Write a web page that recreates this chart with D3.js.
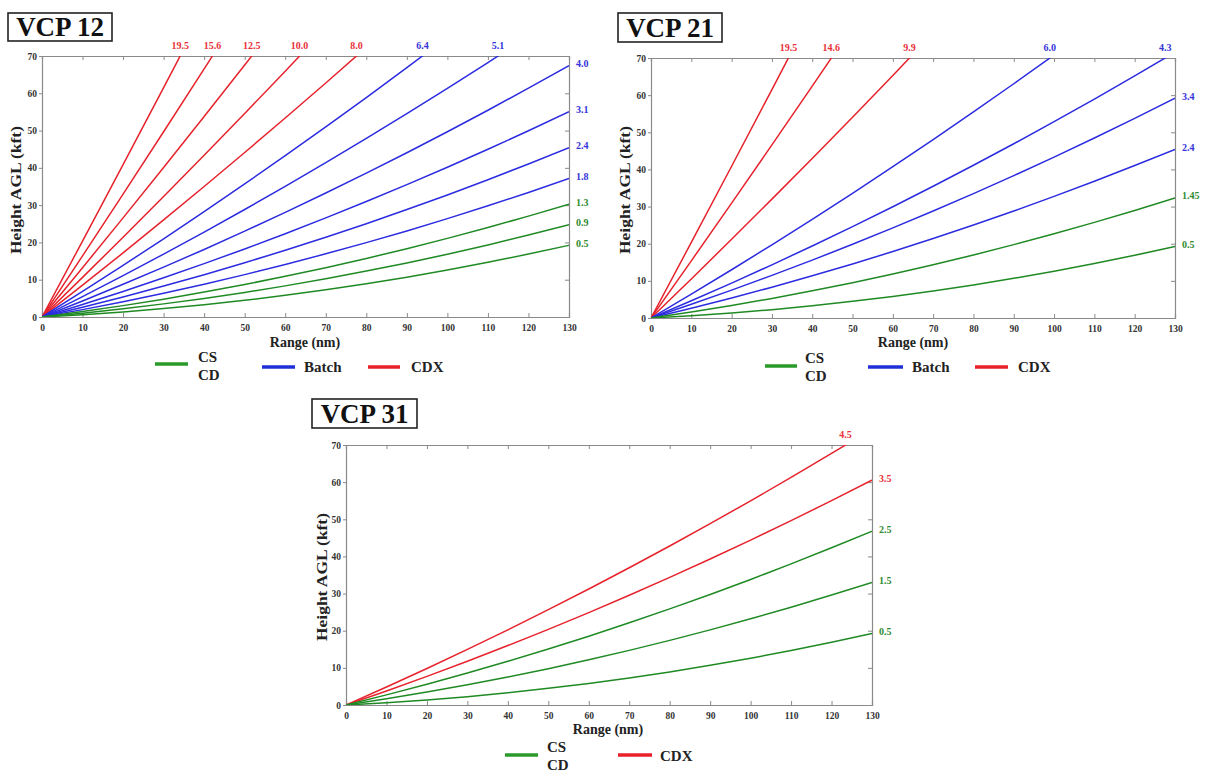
<!DOCTYPE html>
<html>
<head>
<meta charset="utf-8">
<script src="https://cdn.jsdelivr.net/npm/d3@7"></script>
<style>
  html, body { margin: 0; padding: 0; background: #fff; }
  svg { display: block; }
  text { font-family: "Liberation Serif", "Times New Roman", serif; font-weight: bold; }
</style>
</head>
<body>
<svg id="chart" width="1206" height="772"></svg>
<script>
// ---------------- DATA ----------------
const ranges = [0, 10, 20, 30, 40, 50, 60, 70, 80, 90, 100, 110, 120, 130];
const xTicks = [0, 10, 20, 30, 40, 50, 60, 70, 80, 90, 100, 110, 120, 130];
const yTicks = [0, 10, 20, 30, 40, 50, 60, 70];

// VCP 12: elevation angles (deg), scan type, beam height (kft) at each range
const vcp12Angles = ["19.5", "15.6", "12.5", "10.0", "8.0", "6.4", "5.1", "4.0", "3.1", "2.4", "1.8", "1.3", "0.9", "0.5"];
const vcp12Types  = ["CDX", "CDX", "CDX", "CDX", "CDX", "Batch", "Batch", "Batch", "Batch", "Batch", "Batch", "CS", "CS", "CS"];
const vcp12Heights = [
  [0, 20.36, 40.86, 61.50, 82.30],
  [0, 16.41, 32.97, 49.68, 66.53, 83.52],
  [0, 13.22, 26.59, 40.11, 53.77, 67.58, 81.53],
  [0, 10.62, 21.39, 32.31, 43.37, 54.58, 65.93, 77.43],
  [0, 8.53, 17.20, 26.03, 34.99, 44.11, 53.37, 62.77, 72.32],
  [0, 6.85, 13.84, 20.98, 28.26, 35.69, 43.27, 50.99, 58.86, 66.87, 75.03],
  [0, 5.47, 11.09, 16.86, 22.77, 28.83, 35.04, 41.39, 47.88, 54.52, 61.31, 68.25, 75.33],
  [0, 4.31, 8.77, 13.37, 18.12, 23.02, 28.06, 33.25, 38.58, 44.06, 49.68, 55.46, 61.37, 67.44],
  [0, 3.36, 6.86, 10.51, 14.31, 18.25, 22.34, 26.58, 30.96, 35.49, 40.16, 44.98, 49.94, 55.05],
  [0, 2.62, 5.38, 8.29, 11.35, 14.55, 17.89, 21.39, 25.03, 28.81, 32.74, 36.82, 41.05, 45.41],
  [0, 1.98, 4.11, 6.38, 8.80, 11.37, 14.08, 16.94, 19.94, 23.09, 26.39, 29.83, 33.41, 37.15],
  [0, 1.45, 3.05, 4.79, 6.68, 8.72, 10.90, 13.23, 15.70, 18.32, 21.09, 24.00, 27.05, 30.26],
  [0, 1.03, 2.20, 3.52, 4.99, 6.60, 8.35, 10.26, 12.31, 14.50, 16.84, 19.33, 21.97, 24.74],
  [0, 0.60, 1.35, 2.25, 3.29, 4.48, 5.81, 7.29, 8.91, 10.69, 12.60, 14.67, 16.87, 19.23]
];

// VCP 21
const vcp21Angles = ["19.5", "14.6", "9.9", "6.0", "4.3", "3.4", "2.4", "1.45", "0.5"];
const vcp21Types  = ["CDX", "CDX", "CDX", "Batch", "Batch", "Batch", "Batch", "CS", "CS"];
const vcp21Heights = [
  [0, 20.36, 40.86, 61.50, 82.30],
  [0, 15.39, 30.92, 46.60, 62.43, 78.40],
  [0, 10.52, 21.18, 32.00, 42.95, 54.06, 65.31, 76.70],
  [0, 6.42, 12.99, 19.71, 26.57, 33.58, 40.73, 48.03, 55.48, 63.07, 70.81],
  [0, 4.63, 9.40, 14.32, 19.39, 24.60, 29.96, 35.47, 41.12, 46.91, 52.86, 58.95, 65.18, 71.56],
  [0, 3.68, 7.50, 11.47, 15.58, 19.84, 24.25, 28.80, 33.50, 38.34, 43.33, 48.47, 53.75, 59.18],
  [0, 2.62, 5.38, 8.29, 11.35, 14.55, 17.89, 21.39, 25.03, 28.81, 32.74, 36.82, 41.05, 45.41],
  [0, 1.61, 3.37, 5.27, 7.32, 9.51, 11.85, 14.34, 16.97, 19.75, 22.68, 25.75, 28.96, 32.32],
  [0, 0.60, 1.35, 2.25, 3.29, 4.48, 5.81, 7.29, 8.91, 10.69, 12.60, 14.67, 16.87, 19.23]
];

// VCP 31
const vcp31Angles = ["4.5", "3.5", "2.5", "1.5", "0.5"];
const vcp31Types  = ["CDX", "CDX", "CS", "CS", "CS"];
const vcp31Heights = [
  [0, 4.84, 9.83, 14.96, 20.24, 25.66, 31.23, 36.95, 42.81, 48.82, 54.97, 61.27, 67.72, 74.31],
  [0, 3.78, 7.71, 11.79, 16.01, 20.37, 24.88, 29.54, 34.35, 39.30, 44.39, 49.64, 55.02, 60.56],
  [0, 2.72, 5.59, 8.61, 11.77, 15.08, 18.53, 22.13, 25.87, 29.77, 33.80, 37.99, 42.32, 46.79],
  [0, 1.66, 3.47, 5.43, 7.53, 9.78, 12.17, 14.71, 17.40, 20.23, 23.21, 26.33, 29.60, 33.01],
  [0, 0.60, 1.35, 2.25, 3.29, 4.48, 5.81, 7.29, 8.91, 10.69, 12.60, 14.67, 16.87, 19.23]
];

const typeLegend12 = ["CS", "Batch", "CDX"];
const typeLegend31 = ["CS", "CDX"];

// ---------------- STYLE / LAYOUT ----------------
const lineColor  = { CS: "#1f8a24", Batch: "#2b2be0", CDX: "#e6222c" };
const labelColor = { CS: "#2e8a30", Batch: "#3434d8", CDX: "#e83038" };
const legendColor = { CS: "#2a9a2a", Batch: "#2030d8", CDX: "#e82028" };
const legendText = { CS: ["CS", "CD"], Batch: ["Batch"], CDX: ["CDX"] };

const panels = [
  { title: "VCP 12", angles: vcp12Angles, types: vcp12Types, heights: vcp12Heights,
    left: 42, right: 569, top: 56, bottom: 317,
    box: { x: 8, y: 13, w: 104, h: 28 },
    yLab: { x: 16, y: 190 }, xLab: { x: 305, y: 342 },
    legend: [ { t: "CS", x1: 155, x2: 188, y: 364, tx: 198, ty: 357 },
              { t: "Batch", x1: 262, x2: 295, y: 367, tx: 304, ty: 367 },
              { t: "CDX", x1: 368, x2: 400, y: 367, tx: 411, ty: 367 } ] },
  { title: "VCP 21", angles: vcp21Angles, types: vcp21Types, heights: vcp21Heights,
    left: 651, right: 1175, top: 58, bottom: 318,
    box: { x: 618, y: 13, w: 104, h: 29 },
    yLab: { x: 625, y: 190 }, xLab: { x: 913, y: 342 },
    legend: [ { t: "CS", x1: 765, x2: 797, y: 366, tx: 805, ty: 358 },
              { t: "Batch", x1: 868, x2: 903, y: 367, tx: 912, ty: 367 },
              { t: "CDX", x1: 975, x2: 1008, y: 367, tx: 1018, ty: 367 } ] },
  { title: "VCP 31", angles: vcp31Angles, types: vcp31Types, heights: vcp31Heights,
    left: 346, right: 872, top: 445, bottom: 705,
    box: { x: 312, y: 399, w: 105, h: 29 },
    yLab: { x: 322, y: 577 }, xLab: { x: 608, y: 729 },
    legend: [ { t: "CS", x1: 505, x2: 538, y: 755, tx: 547, ty: 747 },
              { t: "CDX", x1: 618, x2: 652, y: 755, tx: 660, ty: 756 } ] }
];

const svg = d3.select("#chart");

panels.forEach((p, pi) => {
  const x = d3.scaleLinear().domain([0, 130]).range([p.left, p.right]);
  const y = d3.scaleLinear().domain([0, 70]).range([p.bottom, p.top]);
  const g = svg.append("g");

  // clip
  const clipId = "clip" + pi;
  svg.append("clipPath").attr("id", clipId).append("rect")
    .attr("x", p.left).attr("y", p.top)
    .attr("width", p.right - p.left).attr("height", p.bottom - p.top);

  // axes
  const tickColor = "#8a8a8a";
  const axB = g.append("g").attr("transform", `translate(0,${p.bottom})`)
    .call(d3.axisBottom(x).tickValues(xTicks).tickSize(-4).tickPadding(7).tickFormat(d3.format("d")));
  const axL = g.append("g").attr("transform", `translate(${p.left},0)`)
    .call(d3.axisLeft(y).tickValues(yTicks).tickSize(3).tickPadding(2).tickFormat(d3.format("d")));
  const axT = g.append("g").attr("transform", `translate(0,${p.top})`)
    .call(d3.axisTop(x).tickValues(xTicks).tickSize(-4).tickFormat(""));
  const axR = g.append("g").attr("transform", `translate(${p.right},0)`)
    .call(d3.axisRight(y).tickValues(yTicks).tickSize(-4).tickFormat(""));
  [axB, axL, axT, axR].forEach(a => {
    a.select(".domain").attr("stroke", tickColor).attr("stroke-width", 1.2);
    a.selectAll(".tick line").attr("stroke", tickColor);
    a.selectAll(".tick text").attr("fill", "#333").style("font-size", "9.5px")
      .style("font-family", '"Liberation Serif", "Times New Roman", serif').style("font-weight", "bold");
  });

  // lines
  const line = d3.line()
    .x((d, i) => x(ranges[i]))
    .y(d => y(d))
    .curve(d3.curveMonotoneX);
  const lg = g.append("g").attr("clip-path", `url(#${clipId})`);
  p.heights.forEach((h, k) => {
    lg.append("path").datum(h)
      .attr("d", line)
      .attr("fill", "none")
      .attr("stroke", lineColor[p.types[k]])
      .attr("stroke-width", 1.5);
  });

  // curve labels
  p.heights.forEach((h, k) => {
    const col = labelColor[p.types[k]];
    const last = h[h.length - 1];
    let tx, ty, anchor;
    if (last > 70) {
      // find crossing of the top
      let r = 130;
      for (let i = 1; i < h.length; i++) {
        if (h[i] >= 70) {
          const f = (70 - h[i - 1]) / (h[i] - h[i - 1]);
          r = ranges[i - 1] + f * (ranges[i] - ranges[i - 1]);
          break;
        }
      }
      tx = x(r); ty = p.top - 11; anchor = "middle";
    } else {
      tx = p.right + 7; ty = y(last) - 2; anchor = "start";
    }
    g.append("text").attr("x", tx).attr("y", ty).attr("dy", "0.35em")
      .attr("text-anchor", anchor).attr("fill", col)
      .style("font-size", "10px").text(p.angles[k]);
  });

  // title box
  g.append("rect").attr("x", p.box.x).attr("y", p.box.y)
    .attr("width", p.box.w).attr("height", p.box.h)
    .attr("fill", "#fff").attr("stroke", "#222").attr("stroke-width", 1.6);
  g.append("text").attr("x", p.box.x + p.box.w / 2).attr("y", p.box.y + p.box.h - 5)
    .attr("text-anchor", "middle").attr("fill", "#111")
    .style("font-size", "27px").text(p.title);

  // axis titles
  g.append("text")
    .attr("transform", `translate(${p.yLab.x},${p.yLab.y}) rotate(-90)`)
    .attr("text-anchor", "middle").attr("dy", "0.35em").attr("fill", "#222")
    .attr("textLength", 128).attr("lengthAdjust", "spacingAndGlyphs")
    .style("font-size", "14px").text("Height AGL (kft)");
  g.append("text").attr("x", p.xLab.x).attr("y", p.xLab.y).attr("dy", "0.35em")
    .attr("text-anchor", "middle").attr("fill", "#222")
    .style("font-size", "14px").text("Range (nm)");

  // legend
  p.legend.forEach(L => {
    g.append("line").attr("x1", L.x1).attr("x2", L.x2).attr("y1", L.y).attr("y2", L.y)
      .attr("stroke", legendColor[L.t]).attr("stroke-width", 3.5);
    legendText[L.t].forEach((s, j) => {
      g.append("text").attr("x", L.tx).attr("y", L.ty + j * 18).attr("dy", "0.35em")
        .attr("fill", "#222").style("font-size", "15px").text(s);
    });
  });
});
</script>
</body>
</html>
